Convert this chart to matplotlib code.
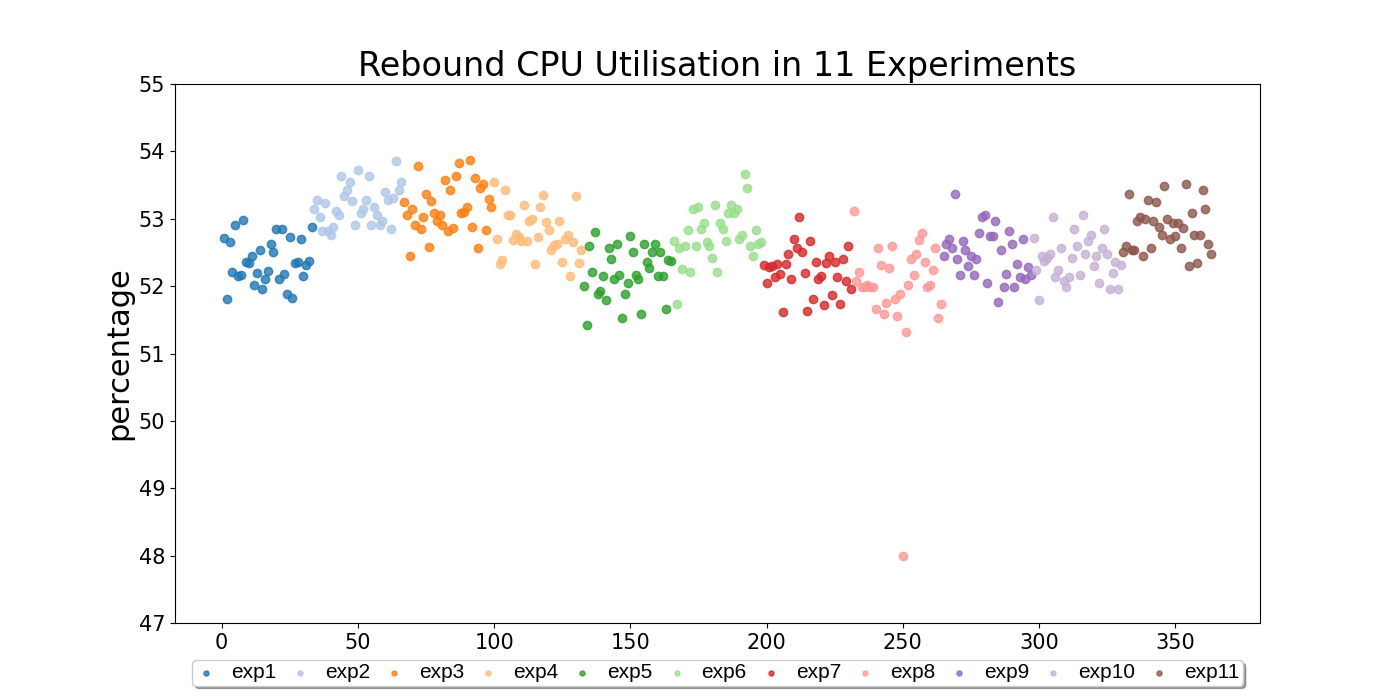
import numpy as np
import matplotlib.pyplot as plt

# CPU utilisation (%) per sample, 33 samples per experiment
exp1 = [52.71, 51.81, 52.65, 52.21, 52.91, 52.15, 52.16, 52.98, 52.36, 52.35, 52.44,
        52.01, 52.20, 52.53, 51.96, 52.11, 52.22, 52.63, 52.51, 52.85, 52.10, 52.85,
        52.18, 51.89, 52.73, 51.83, 52.35, 52.36, 52.70, 52.15, 52.32, 52.38, 52.88]
exp2 = [53.15, 53.28, 53.03, 52.82, 53.23, 52.82, 52.76, 52.88, 53.11, 53.05, 53.63,
        53.34, 53.43, 53.54, 53.27, 52.91, 53.73, 53.08, 53.15, 53.28, 53.63, 52.91,
        53.18, 53.05, 52.90, 52.96, 53.40, 53.28, 52.85, 53.31, 53.85, 53.43, 53.54]
exp3 = [53.25, 53.06, 52.44, 53.15, 52.90, 53.78, 52.85, 53.02, 53.36, 52.58, 53.27,
        53.08, 52.96, 53.05, 52.90, 53.57, 52.82, 53.42, 52.87, 53.64, 53.83, 53.09,
        53.10, 53.17, 53.87, 52.88, 53.61, 52.56, 53.45, 53.51, 52.84, 53.30, 53.18]
exp4 = [53.55, 52.70, 52.33, 52.39, 53.42, 53.06, 53.06, 52.68, 52.78, 52.73, 52.67,
        53.20, 52.67, 52.96, 52.99, 52.33, 52.73, 53.18, 53.35, 52.95, 52.84, 52.53,
        52.61, 52.63, 52.97, 52.36, 52.70, 52.76, 52.15, 52.66, 53.34, 52.35, 52.53]
exp5 = [52.00, 51.43, 52.60, 52.21, 52.81, 51.89, 51.93, 52.15, 51.80, 52.56, 52.41,
        52.11, 52.62, 52.17, 51.53, 51.89, 52.05, 52.75, 52.51, 52.17, 52.10, 51.59,
        52.62, 52.36, 52.27, 52.51, 52.62, 52.15, 52.51, 52.15, 51.66, 52.39, 52.38]
exp6 = [52.67, 51.73, 52.56, 52.26, 52.59, 52.84, 52.21, 53.15, 52.59, 53.17, 52.85,
        52.93, 52.65, 52.59, 52.42, 53.20, 52.21, 52.93, 52.85, 52.67, 53.09, 53.20,
        53.08, 53.14, 52.70, 52.76, 53.67, 53.45, 52.59, 52.45, 52.84, 52.63, 52.66]
exp7 = [52.32, 52.04, 52.29, 52.30, 52.14, 52.33, 52.18, 51.62, 52.33, 52.48, 52.11,
        52.70, 52.57, 53.02, 52.51, 52.20, 51.63, 52.67, 51.81, 52.36, 52.11, 52.15,
        51.72, 52.35, 52.44, 51.87, 52.36, 52.13, 51.74, 52.41, 52.08, 52.60, 51.96]
exp8 = [53.11, 52.07, 52.21, 51.98, 51.99, 52.02, 51.99, 51.98, 51.66, 52.57, 52.32,
        51.59, 51.75, 52.27, 52.59, 51.81, 51.55, 51.89, 48.00, 51.32, 52.02, 52.41,
        52.16, 52.48, 52.69, 52.79, 52.36, 51.98, 52.01, 52.24, 52.56, 51.52, 51.74]
exp9 = [52.44, 52.63, 52.70, 52.56, 53.36, 52.41, 52.17, 52.67, 52.54, 52.30, 52.44,
        52.17, 52.41, 52.79, 53.03, 53.06, 52.05, 52.75, 52.75, 52.97, 51.77, 52.54,
        51.98, 52.18, 52.82, 52.62, 51.98, 52.33, 52.13, 52.70, 52.11, 52.29, 52.17]
exp10 = [52.72, 52.24, 51.80, 52.45, 52.38, 52.42, 52.47, 53.03, 52.13, 52.24, 52.56,
         52.08, 51.99, 52.13, 52.42, 52.85, 52.59, 52.17, 53.05, 52.47, 52.67, 52.76,
         52.30, 52.44, 52.04, 52.56, 52.85, 52.48, 51.96, 52.20, 52.36, 51.96, 52.32]
exp11 = [52.51, 52.59, 53.36, 52.53, 52.53, 52.97, 53.02, 52.44, 52.99, 53.28, 52.56,
         52.96, 53.25, 52.88, 52.76, 53.48, 52.99, 52.70, 52.93, 52.75, 52.94, 52.57,
         52.87, 53.51, 52.30, 53.09, 52.76, 52.35, 52.76, 53.42, 53.15, 52.62, 52.48]

experiments = [exp1, exp2, exp3, exp4, exp5, exp6, exp7, exp8, exp9, exp10, exp11]
labels = [f"exp{i}" for i in range(1, 12)]

colors = plt.get_cmap("tab20").colors

fig, ax = plt.subplots(figsize=(14, 7), dpi=100)

start = 1
for i, vals in enumerate(experiments):
    x = np.arange(start, start + len(vals))
    ax.scatter(x, vals, s=36, color=colors[i], alpha=0.8, label=labels[i])
    start += len(vals)

ax.set_ylim(47, 55)
ax.set_title("Rebound CPU Utilisation in 11 Experiments", fontsize=24)
ax.set_ylabel("percentage", fontsize=22)
ax.tick_params(labelsize=15)

ax.legend(loc="upper center", bbox_to_anchor=(0.5, -0.05), ncol=11,
          fancybox=True, shadow=True, markerscale=0.6,
          handlelength=1.0, handletextpad=0.7, columnspacing=0.65,
          borderpad=0.15, borderaxespad=0.5,
          prop={"family": "Liberation Sans", "size": 15})

plt.savefig("out.png", dpi=100)
